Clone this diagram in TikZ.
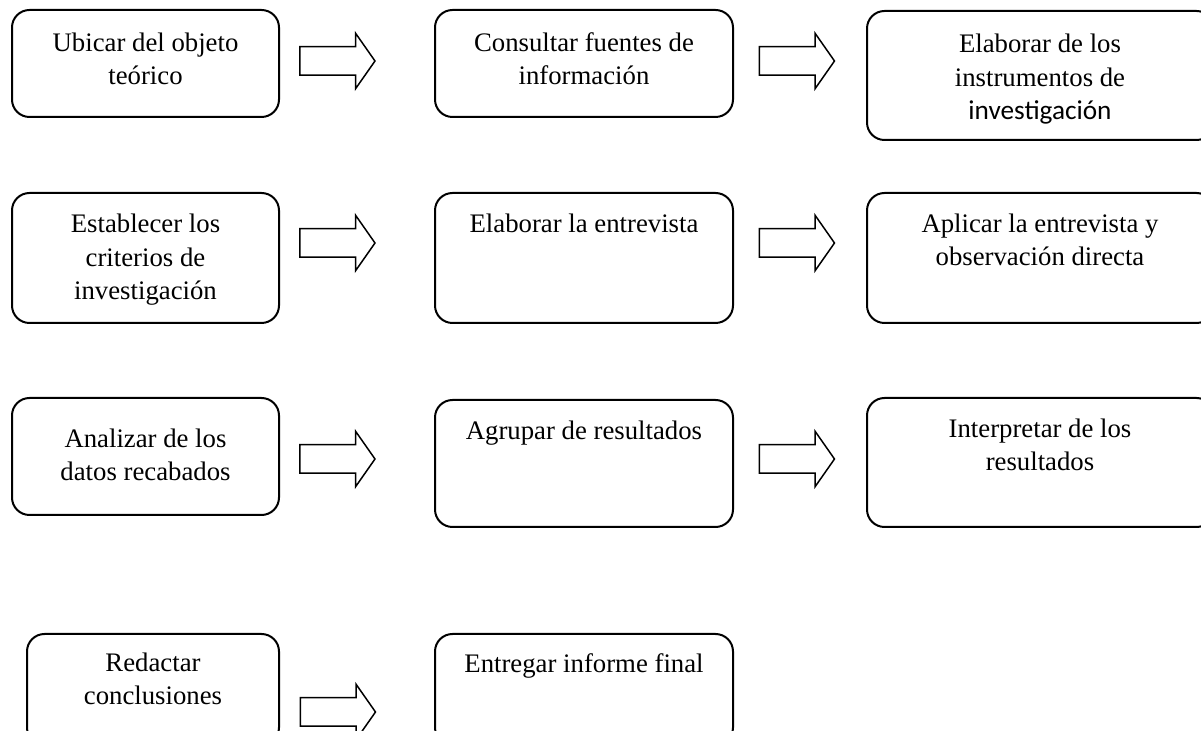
\documentclass[tikz,border=0pt]{standalone}
\usepackage{fontspec}
\setmainfont{Liberation Serif}
\newfontfamily\calibrifont{Carlito}
\usetikzlibrary{fit,shapes.arrows}

\tikzset{
  stepbox/.style={draw, line width=0.8pt, rounded corners=7pt, inner sep=0pt},
  % text is placed by the baseline of its last line
  steptext/.style={anchor=base, align=center, inner sep=0pt,
    font=\fontsize{10.7}{13.4}\selectfont},
  blockarrow/.style={single arrow, draw, line width=0.6pt,
    inner xsep=0pt, inner ysep=5.4pt, minimum height=30pt,
    single arrow head extend=5.4pt, single arrow tip angle=110},
}

\begin{document}
\begin{tikzpicture}[x=0.4pt,y=-0.4pt]

\useasboundingbox (0,0) rectangle (1201,731);
\clip (0,0) rectangle (1201,731);

% first row
\node[stepbox, fit={(12,10) (279,117)}] (ubicar) {};
\node[steptext] (ubicar-t) at (145.5,85) {Ubicar del objeto\\teórico};
\node[stepbox, fit={(435,10) (733,117)}] (consultar) {};
\node[steptext] (consultar-t) at (584,85) {Consultar fuentes de\\información};
\node[stepbox, fit={(867,11) (1214,140)}] (instrumentos) {};
\node[steptext] (instrumentos-t) at (1040,120) {Elaborar de los\\instrumentos de\\{\calibrifont\fontsize{10.9}{13.4}\selectfont investigación}};

\node[blockarrow] (flecha1) at (332.5,61) {};
\node[blockarrow] (flecha2) at (792,61) {};

% second row
\node[stepbox, fit={(12,193) (279,323)}] (criterios) {};
\node[steptext] (criterios-t) at (145.5,300) {Establecer los\\criterios de\\investigación};
\node[stepbox, fit={(435,193) (733,323)}] (entrevista) {};
\node[steptext] (entrevista-t) at (584,233) {Elaborar la entrevista};
\node[stepbox, fit={(867,193) (1214,323)}] (aplicar) {};
\node[steptext] (aplicar-t) at (1040,266) {Aplicar la entrevista y\\observación directa};

\node[blockarrow] (flecha3) at (332.5,243) {};
\node[blockarrow] (flecha4) at (792,243) {};

% third row
\node[stepbox, fit={(12,398) (279,515)}] (analizar) {};
\node[steptext] (analizar-t) at (145.5,481) {Analizar de los\\datos recabados};
\node[stepbox, fit={(435,400) (733,527)}] (agrupar) {};
\node[steptext] (agrupar-t) at (584,440) {Agrupar de resultados};
\node[stepbox, fit={(867,398) (1214,527)}] (interpretar) {};
\node[steptext] (interpretar-t) at (1040,471) {Interpretar de los\\resultados};

\node[blockarrow] (flecha5) at (332.5,459) {};
\node[blockarrow] (flecha6) at (792,459) {};

% last row
\node[stepbox, fit={(27,634) (279,745)}] (redactar) {};
\node[steptext] (redactar-t) at (153,705) {Redactar\\conclusiones};
\node[stepbox, fit={(435,634) (733,745)}] (entregar) {};
\node[steptext] (entregar-t) at (584,673) {Entregar informe final};

\node[blockarrow] (flecha7) at (333,712) {};

\end{tikzpicture}
\end{document}
